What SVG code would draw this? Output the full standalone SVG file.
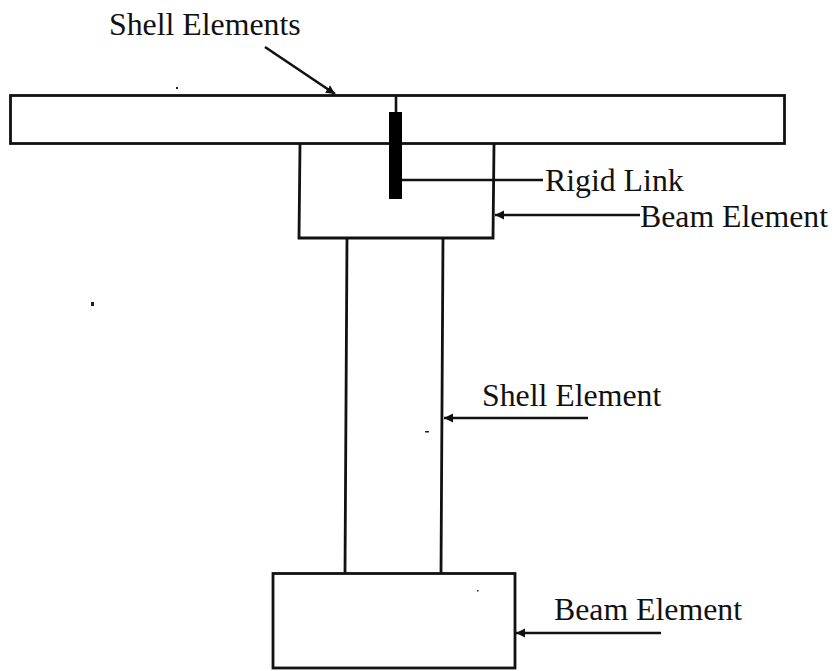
<svg xmlns="http://www.w3.org/2000/svg" width="837" height="671" viewBox="0 0 837 671">
<style>
.s{fill:none;stroke:#111;stroke-width:2.8}
.c{fill:none;stroke:#111;stroke-width:2.6}
.t{font-family:"Liberation Serif","Times New Roman",serif;font-size:31.800px;fill:#111}
</style>
<defs>
<marker id="a" markerUnits="userSpaceOnUse" markerWidth="10" markerHeight="10" refX="9" refY="5" orient="auto"><path d="M0,5L9,0.500V9.500Z" fill="#111" transform="rotate(180 4.500 5)"/></marker>
</defs>
<rect width="837" height="671" fill="#fff"/>
<g id="flange"><rect class="s" x="10.500" y="95.500" width="774" height="48"/></g>
<g id="top-beam"><path class="s" d="M300,144L299,238H493L494,144"/></g>
<g id="web"><path class="s" d="M347,238L345,573M443,238L441,573"/></g>
<g id="bottom-beam"><rect class="s" x="273" y="573.500" width="242" height="94.500"/></g>
<g id="rigid-link"><path class="c" d="M396,96V112"/><rect x="389" y="112" width="13" height="87" fill="#000"/></g>
<g id="connectors">
<path class="c" d="M265,47L335,94" marker-end="url(#a)"/>
<path class="c" d="M402,180H543"/>
<path class="c" d="M640,215H495" marker-end="url(#a)"/>
<path class="c" d="M588,418H444" marker-end="url(#a)"/>
<path class="c" d="M661,633H516" marker-end="url(#a)"/>
</g>
<g id="labels">
<text class="t" x="109" y="35">Shell Elements</text>
<text class="t" x="545" y="191">Rigid Link</text>
<text class="t" x="640" y="227">Beam Element</text>
<text class="t" x="482" y="406">Shell Element</text>
<text class="t" x="554" y="620">Beam Element</text>
</g>
<g id="specks" fill="#222">
<rect x="91" y="302" width="3" height="4"/>
<rect x="176" y="87" width="2" height="2"/>
<rect x="425" y="431" width="4" height="1.500"/>
<rect x="477" y="590" width="1.500" height="1.500"/>
</g>
</svg>
